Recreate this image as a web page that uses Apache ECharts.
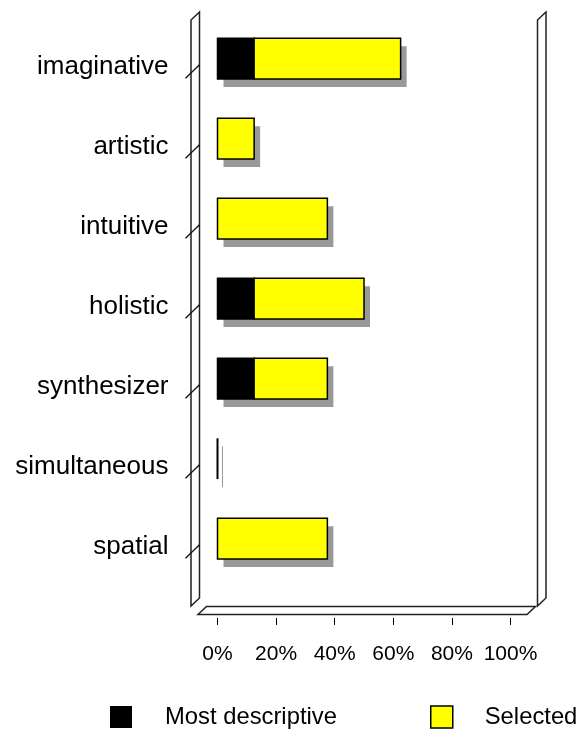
<!DOCTYPE html>
<html>
<head>
<meta charset="utf-8">
<script src="https://cdn.jsdelivr.net/npm/echarts@6/dist/echarts.min.js"></script>
<style>
html,body{margin:0;padding:0;background:#fff;}
#chart{width:581px;height:731px;}
</style>
</head>
<body>
<div id="chart"></div>
<script>
// ---- data ----
const categories = ['imaginative', 'artistic', 'intuitive', 'holistic', 'synthesizer', 'simultaneous', 'spatial'];
const mostDescriptive = [12.5, 0, 0, 12.5, 12.5, 0, 0];
const selected = [50, 12.5, 37.5, 37.5, 25, 0, 37.5];
const xTickValues = [0, 20, 40, 60, 80, 100];
const seriesNames = ['Most descriptive', 'Selected'];

// ---- layout ----
const FONT = "'Liberation Sans', Arial, sans-serif";
const W = 581, H = 731;
const grid = { left: 217.5, right: 70.5, top: 18.7, bottom: 152.3 };
const SHADOW_DX = 6, SHADOW_DY = 8;
const BAR_FRAC = 0.51;

const rows = categories.map((c, i) => [i, mostDescriptive[i], selected[i]]);

const chart = echarts.init(document.getElementById('chart'), null, { renderer: 'canvas' });

function barGeom(api) {
  const idx = api.value(0);
  const md = api.value(1);
  const sel = api.value(2);
  const p0 = api.coord([0, idx]);
  const p1 = api.coord([md, idx]);
  const pT = api.coord([md + sel, idx]);
  const h = api.size([0, 1])[1] * BAR_FRAC;
  return { md, sel, p0, p1, pT, h, y0: p0[1] - h / 2 };
}

const option = {
  backgroundColor: '#fff',
  animation: false,
  textStyle: { fontFamily: FONT },
  grid: grid,
  xAxis: {
    type: 'value',
    min: xTickValues[0],
    max: xTickValues[xTickValues.length - 1],
    interval: xTickValues[1] - xTickValues[0],
    offset: 39.3,
    axisLine: { show: false },
    axisTick: { show: true, length: 7, lineStyle: { color: '#000', width: 1 } },
    splitLine: { show: false },
    axisLabel: { fontSize: 21, color: '#000', fontFamily: FONT, margin: 25.5, formatter: '{value}%' }
  },
  yAxis: {
    type: 'category',
    data: categories,
    inverse: true,
    axisLine: { show: false },
    axisTick: { show: false },
    splitLine: { show: false },
    axisLabel: {
      color: '#000', fontFamily: FONT, fontSize: 26, margin: 49,
      formatter: function (v) { return '{a|' + v + '}'; },
      rich: { a: { fontSize: 26, color: '#000', fontFamily: FONT, padding: [17, 0, 0, 0] } }
    }
  },
  legend: [
    {
      data: [{ name: seriesNames[0], icon: 'rect', itemStyle: { color: '#000', borderWidth: 0 } }],
      left: 110, top: 705, padding: 0,
      itemWidth: 22, itemHeight: 22,
      textStyle: { fontSize: 23.8, color: '#000', fontFamily: FONT, padding: [0, 0, 0, 28] }
    },
    {
      data: [{ name: seriesNames[1], icon: 'rect', itemStyle: { color: '#ffff00', borderColor: '#000', borderWidth: 1.5 } }],
      left: 430, top: 705, padding: 0,
      itemWidth: 22, itemHeight: 22,
      textStyle: { fontSize: 23.8, color: '#000', fontFamily: FONT, padding: [0, 0, 0, 27] }
    }
  ],
  series: [
    {
      name: seriesNames[0],
      type: 'custom',
      itemStyle: { color: '#000' },
      encode: { x: [1, 2], y: 0 },
      data: rows,
      renderItem: function (params, api) {
        const g = barGeom(api);
        const children = [];
        const totalW = g.pT[0] - g.p0[0];
        if (totalW > 0.5) {
          children.push({
            type: 'rect',
            shape: { x: g.p0[0] + SHADOW_DX, y: g.y0 + SHADOW_DY, width: totalW, height: g.h },
            style: { fill: '#999999' }
          });
        } else {
          children.push({
            type: 'line',
            shape: { x1: g.p0[0] + SHADOW_DX - 1, y1: g.y0 + SHADOW_DY, x2: g.p0[0] + SHADOW_DX - 1, y2: g.y0 + g.h + SHADOW_DY },
            style: { stroke: '#999999', lineWidth: 1 }
          });
          children.push({
            type: 'line',
            shape: { x1: g.p0[0], y1: g.y0, x2: g.p0[0], y2: g.y0 + g.h },
            style: { stroke: '#000', lineWidth: 2 }
          });
        }
        if (g.md > 0) {
          children.push({
            type: 'rect',
            shape: { x: g.p0[0], y: g.y0, width: g.p1[0] - g.p0[0], height: g.h },
            style: { fill: '#000', stroke: '#000', lineWidth: 1.5 }
          });
        }
        return { type: 'group', children: children };
      }
    },
    {
      name: seriesNames[1],
      type: 'custom',
      itemStyle: { color: '#ffff00', borderColor: '#000', borderWidth: 1.5 },
      encode: { x: [1, 2], y: 0 },
      data: rows,
      renderItem: function (params, api) {
        const g = barGeom(api);
        if (!(g.sel > 0)) return { type: 'group', children: [] };
        return {
          type: 'rect',
          shape: { x: g.p1[0], y: g.y0, width: g.pT[0] - g.p1[0], height: g.h },
          style: { fill: '#ffff00', stroke: '#000', lineWidth: 1.5 }
        };
      }
    }
  ]
};

chart.setOption(option);

// ---- 3D frame decorations derived from grid geometry ----
(function () {
  const top = grid.top, bottom = H - grid.bottom;
  const left = grid.left, right = W - grid.right;
  const DX = 8.5, DY = 8;
  const lwFront = left - 26.5;          // left wall front x
  const rwFront = right + 27;           // right wall front x
  const wTop = top + 1.3;               // wall top (front)
  const wBot = bottom + 27.3;           // wall bottom (front)
  const fBack = wBot + 0.5;             // floor back edge y
  const fFront = fBack + DY;            // floor front edge y
  const stroke = '#222';
  const elems = [];
  function poly(points) {
    elems.push({
      type: 'polygon', silent: true, z: 0,
      shape: { points: points },
      style: { fill: 'rgba(0,0,0,0)', stroke: stroke, lineWidth: 1.5 }
    });
  }
  // left wall
  poly([[lwFront, wBot], [lwFront, wTop], [lwFront + DX, wTop - DY], [lwFront + DX, wBot - DY]]);
  // right wall
  poly([[rwFront, wBot], [rwFront, wTop], [rwFront + DX, wTop - DY], [rwFront + DX, wBot - DY]]);
  // floor
  poly([[lwFront + 7, fFront], [lwFront + 7 + DX, fBack], [rwFront - 10.5 + DX, fBack], [rwFront - 10.5, fFront]]);
  // slashes on left wall, one per category
  categories.forEach(function (c) {
    const cy = chart.convertToPixel({ yAxisIndex: 0 }, c);
    elems.push({
      type: 'line', silent: true, z: 0,
      shape: { x1: lwFront - 5.5, y1: cy + 19.5, x2: lwFront + DX, y2: cy + 6 },
      style: { stroke: '#111', lineWidth: 1.3 }
    });
  });
  chart.setOption({ graphic: elems });
})();
</script>
</body>
</html>
